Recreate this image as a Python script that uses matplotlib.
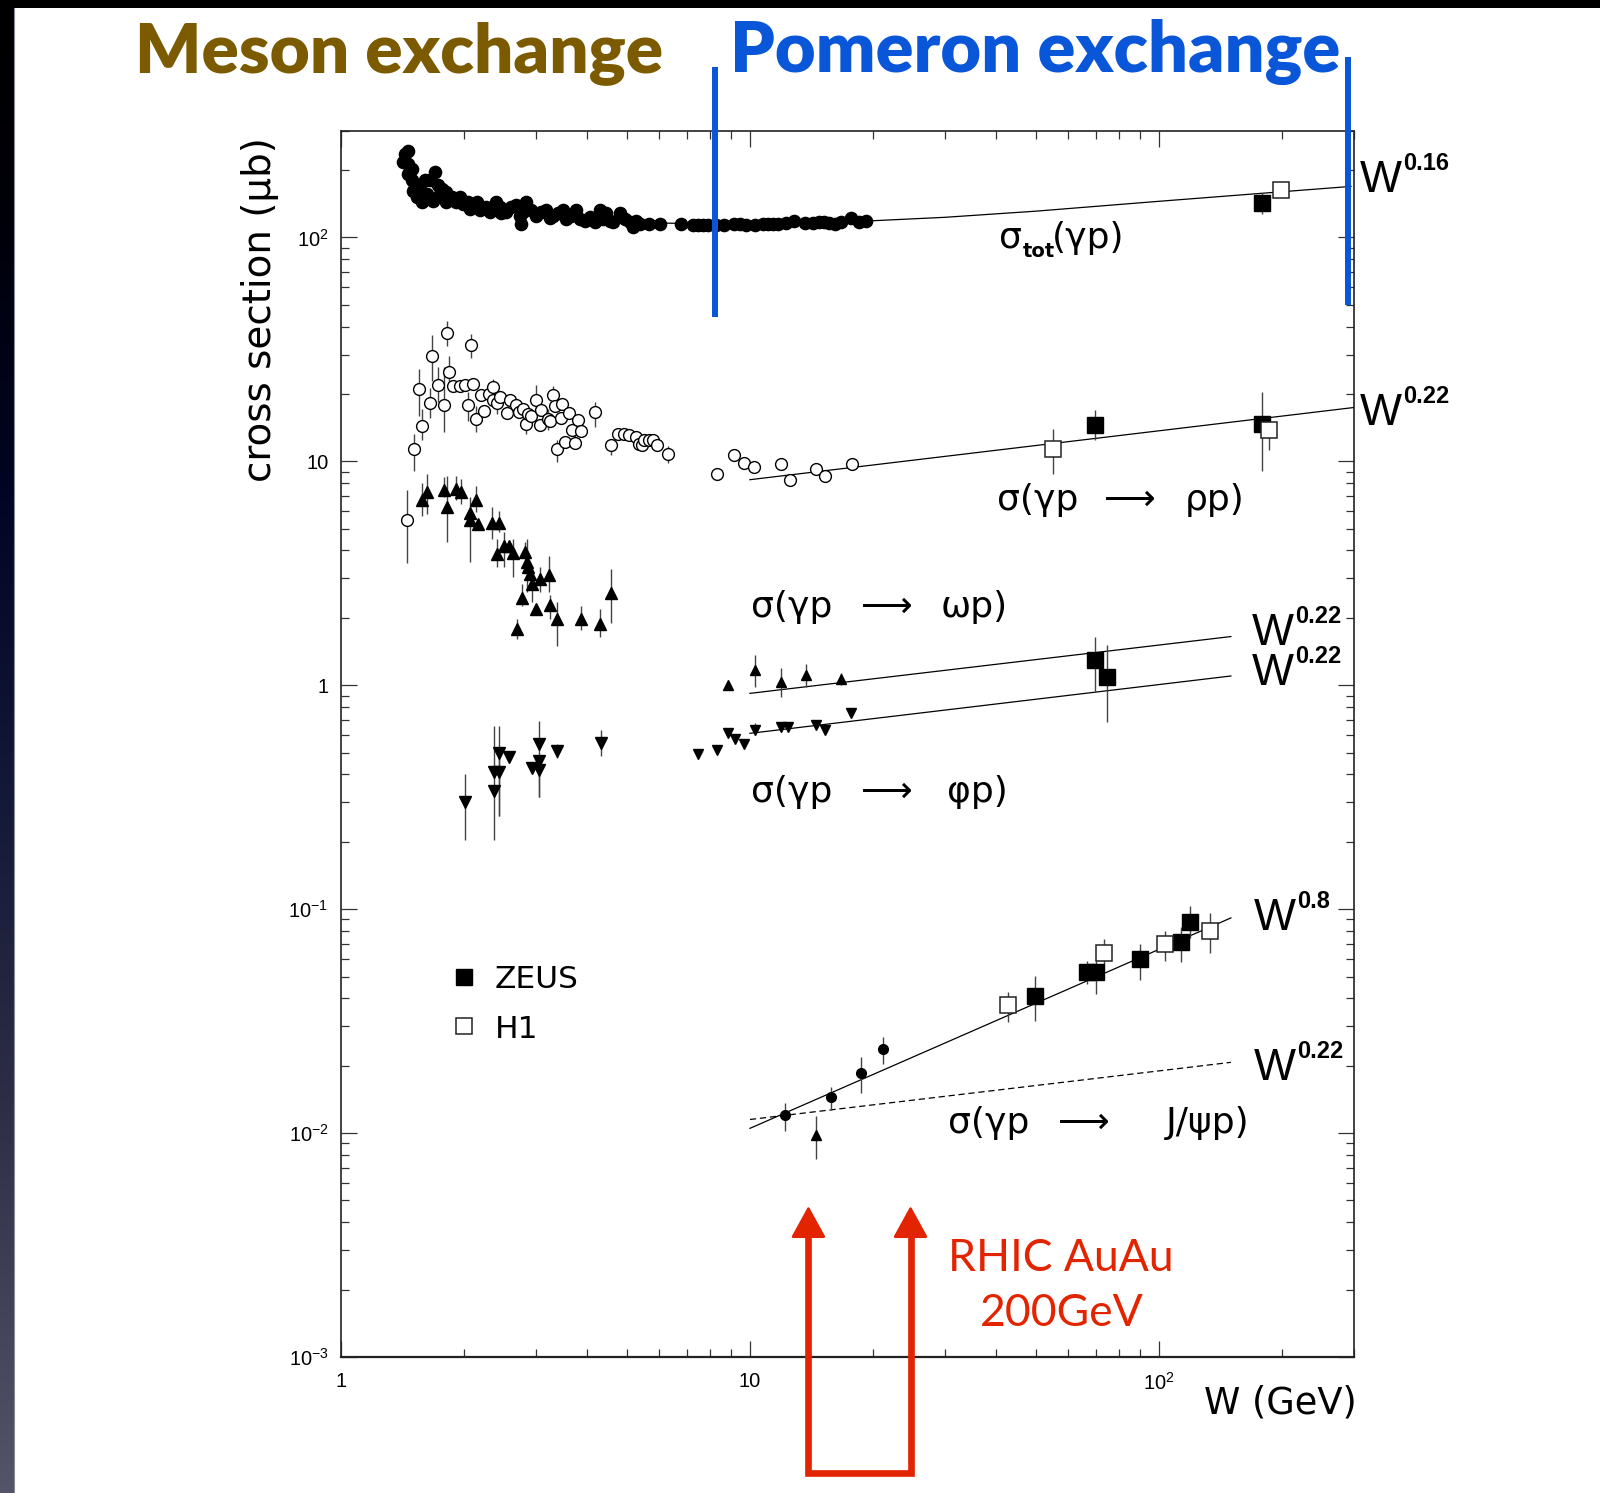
import matplotlib
matplotlib.use("Agg")
import matplotlib.pyplot as plt
import matplotlib.transforms as mtransforms
import numpy as np
from matplotlib import font_manager
from matplotlib.lines import Line2D
from matplotlib.patches import Rectangle
from matplotlib.ticker import FixedLocator, FixedFormatter, LogLocator, NullFormatter

# ---------------- data (W in GeV, cross sections in microbarn) ----------------

# total photoproduction cross section, fixed-target data
tot_w = [1.433, 1.460, 1.420, 1.460, 1.488, 1.460, 1.488, 1.502, 1.530, 1.574,
         1.516, 1.559, 1.604, 1.619, 1.650, 1.696, 1.681, 1.729, 1.745, 1.762,
         1.811, 1.811, 1.863, 1.916, 1.952, 1.990, 2.046, 2.066, 2.125, 2.145,
         2.185, 2.268, 2.311, 2.400, 2.445, 2.468, 2.538, 2.611, 2.686, 2.736,
         2.762, 2.788, 2.841, 2.921, 3.005, 3.090, 3.179, 3.239, 3.300, 3.395,
         3.491, 3.557, 3.659, 3.763, 3.833, 3.944, 4.056, 4.171, 4.290, 4.371,
         4.454, 4.539, 4.624, 4.801, 4.937, 5.078, 5.175, 5.272, 5.372, 5.68,
         6.01, 6.79, 7.25, 7.46, 7.67, 7.89, 8.27, 8.66, 9.16, 9.43,
         9.79, 10.26, 10.75, 11.05, 11.37, 11.69, 12.25, 12.84, 13.6, 14.23,
         14.78, 15.2, 15.6, 16.1, 16.7, 17.67, 18.5, 19.2]
tot_sig = [236, 244, 217, 213, 203, 192, 180, 162, 151, 144,
           171, 168, 180, 157, 180, 196, 146, 171, 157, 165,
           159, 144, 151, 144, 151, 141, 144, 134, 139, 144,
           132, 137, 130, 144, 137, 128, 130, 137, 139, 125,
           115, 130, 144, 132, 125, 130, 132, 122, 125, 128,
           132, 121, 125, 132, 121, 119, 123, 117, 132, 121,
           128, 119, 117, 128, 121, 117, 111, 119, 115, 115,
           115, 115, 114, 114, 114, 114, 114, 114, 115, 115,
           114, 114, 115, 115, 115, 115, 116, 118, 116, 116,
           117, 117, 116, 115, 117, 122, 117, 119]
tot_zeus_w, tot_zeus_sig, tot_zeus_lo, tot_zeus_hi = [178.6], [142.8], [127.6], [157.7]
tot_h1_w, tot_h1_sig = [199.4], [163.7]
tot_fit_w = [6.0, 10.0, 18.6, 30.0, 50.0, 100.0, 200.0, 295.0]
tot_fit_sig = [116, 114, 118, 123, 131, 145, 160, 169]

# rho photoproduction
rho_w = [1.45, 1.51, 1.55, 1.58, 1.65, 1.67, 1.73, 1.79, 1.82, 1.84,
         1.88, 1.95, 2.01, 2.05, 2.08, 2.10, 2.14, 2.20, 2.24, 2.30,
         2.35, 2.36, 2.41, 2.45, 2.55, 2.59, 2.68, 2.73, 2.79, 2.84,
         2.87, 2.91, 3.00, 3.06, 3.08, 3.21, 3.25, 3.30, 3.34, 3.38,
         3.46, 3.47, 3.53, 3.61, 3.67, 3.74, 3.79, 3.87, 4.19, 4.58,
         4.76, 4.92, 5.07, 5.25, 5.35, 5.44, 5.50, 5.65, 5.79, 5.94,
         6.30, 8.32, 9.16, 9.67, 10.25, 11.9, 12.5, 14.5, 15.3, 17.8]
rho_sig = [5.46, 11.3, 21.0, 14.4, 18.3, 29.6, 22.0, 17.9, 37.4, 25.0,
           21.6, 21.6, 22.0, 17.9, 33.1, 22.2, 15.4, 19.8, 16.7, 19.9,
           21.4, 18.7, 18.3, 19.4, 16.5, 18.7, 17.8, 16.6, 17.2, 14.7,
           16.3, 16.0, 18.7, 14.5, 17.0, 15.4, 15.1, 19.8, 17.7, 11.3,
           15.6, 18.0, 12.2, 16.4, 13.8, 12.1, 15.3, 13.6, 16.6, 11.8,
           13.3, 13.2, 13.1, 12.9, 11.9, 11.8, 12.4, 12.4, 12.5, 11.8,
           10.8, 8.82, 10.7, 9.83, 9.43, 9.76, 8.23, 9.27, 8.57, 9.76]
rho_lo = [3.50, 9.03, 15.9, 12.4, 15.6, 22.9, 18.4, 13.5, 32.8, 21.3,
          21.6, 21.6, 22.0, 15.1, 28.9, 22.2, 13.5, 19.8, 16.7, 19.9,
          20.1, 18.7, 16.2, 19.4, 15.4, 18.7, 17.8, 16.6, 17.2, 13.3,
          16.3, 16.0, 16.5, 14.5, 17.0, 13.8, 15.1, 18.4, 17.7, 9.98,
          15.6, 18.0, 12.2, 16.4, 13.8, 11.5, 15.3, 13.6, 14.3, 10.7,
          13.3, 13.2, 13.1, 12.9, 11.9, 11.8, 12.4, 12.4, 12.5, 11.8,
          9.8, 8.82, 10.7, 9.83, 9.43, 9.76, 8.23, 9.27, 8.57, 9.76]
rho_hi = [7.46, 13.3, 25.9, 17.1, 21.3, 36.5, 26.4, 26.4, 42.2, 29.4,
          21.6, 21.6, 22.0, 20.5, 37.2, 22.2, 17.7, 19.8, 16.7, 19.9,
          23.3, 18.7, 20.1, 19.4, 17.7, 18.7, 17.8, 16.6, 17.2, 17.7,
          16.3, 16.0, 22.0, 14.5, 17.0, 17.1, 15.1, 21.6, 17.7, 12.4,
          15.6, 18.0, 12.2, 16.4, 13.8, 13.3, 15.3, 13.6, 18.4, 12.6,
          13.3, 13.2, 13.1, 12.9, 11.9, 11.8, 12.4, 12.4, 12.5, 11.8,
          11.7, 8.82, 10.7, 9.83, 9.43, 9.76, 8.23, 9.27, 8.57, 9.76]
rho_zeus_w, rho_zeus_sig = [69.6, 178.8], [14.6, 14.7]
rho_zeus_lo, rho_zeus_hi = [12.4, 9.1], [17.0, 20.4]
rho_h1_w, rho_h1_sig = [55.0, 186.0], [11.3, 13.8]
rho_h1_lo, rho_h1_hi = [8.75, 11.2], [14.0, 15.8]
rho_fit_w, rho_fit_sig = [10.0, 300.0], [8.28, 17.4]

# omega photoproduction
omega_w = [1.58, 1.62, 1.79, 1.82, 1.91, 1.96, 2.07, 2.07, 2.14, 2.16,
           2.34, 2.44, 2.41, 2.51, 2.57, 2.64, 2.82, 2.85, 2.87, 2.90,
           2.93, 2.77, 2.99, 3.07, 3.22, 3.24, 3.37, 2.69, 3.87, 4.31,
           4.58, 8.86, 10.3, 11.9, 13.7, 16.7]
omega_sig = [6.70, 7.26, 7.47, 6.24, 7.55, 7.26, 5.87, 5.46, 6.75, 5.27,
             5.30, 5.30, 3.87, 4.20, 4.20, 3.90, 3.93, 3.56, 3.38, 3.15,
             2.82, 2.46, 2.19, 2.98, 3.12, 2.29, 1.98, 1.78, 1.98, 1.88,
             2.58, 1.00, 1.17, 1.035, 1.11, 1.07]
omega_lo = [5.70, 5.81, 6.95, 4.35, 6.70, 6.47, 3.56, 5.46, 5.91, 5.27,
            4.51, 4.84, 3.38, 3.38, 4.20, 3.03, 3.50, 2.62, 3.38, 3.15,
            2.35, 2.27, 2.19, 2.62, 2.62, 1.97, 1.50, 1.61, 1.77, 1.64,
            1.90, 1.00, 0.98, 0.89, 0.98, 1.00]
omega_hi = [8.04, 8.80, 8.48, 8.63, 8.63, 8.32, 6.95, 5.46, 7.74, 5.27,
            6.24, 6.01, 4.51, 4.84, 4.20, 4.51, 4.35, 4.51, 3.38, 3.15,
            3.15, 2.82, 2.19, 3.38, 3.77, 2.53, 2.35, 1.97, 2.27, 2.19,
            3.32, 1.00, 1.36, 1.19, 1.25, 1.14]
omega_zeus_w, omega_zeus_sig, omega_zeus_lo, omega_zeus_hi = [69.6], [1.29], [0.93], [1.64]
omega_fit_w, omega_fit_sig = [10.0, 150.0], [0.92, 1.65]

# phi photoproduction
phi_w = [2.01, 2.37, 2.37, 2.43, 2.44, 2.57, 2.93, 3.05, 3.05, 3.05,
         3.37, 4.33, 7.47, 8.32, 8.86, 9.20, 9.67, 10.3, 11.9, 12.4,
         14.5, 15.3, 17.7]
phi_sig = [0.302, 0.336, 0.41, 0.41, 0.50, 0.479, 0.425, 0.418, 0.457, 0.547,
           0.509, 0.553, 0.491, 0.513, 0.609, 0.578, 0.549, 0.63, 0.652, 0.652,
           0.663, 0.634, 0.748]
phi_lo = [0.203, 0.203, 0.41, 0.261, 0.261, 0.479, 0.425, 0.318, 0.457, 0.318,
          0.473, 0.482, 0.491, 0.513, 0.609, 0.578, 0.549, 0.60, 0.652, 0.652,
          0.663, 0.634, 0.748]
phi_hi = [0.403, 0.655, 0.41, 0.50, 0.655, 0.479, 0.425, 0.482, 0.457, 0.692,
          0.547, 0.632, 0.491, 0.513, 0.609, 0.578, 0.549, 0.68, 0.652, 0.652,
          0.663, 0.634, 0.748]
phi_zeus_w, phi_zeus_sig, phi_zeus_lo, phi_zeus_hi = [74.6], [1.09], [0.686], [1.51]
phi_fit_w, phi_fit_sig = [10.0, 150.0], [0.61, 1.10]

# J/psi photoproduction
jpsi_ft_w = [12.2, 15.8, 18.7, 21.2]
jpsi_ft_sig = [0.0120, 0.01452, 0.01852, 0.0237]
jpsi_ft_lo = [0.0102, 0.01265, 0.0151, 0.0203]
jpsi_ft_hi = [0.01368, 0.01614, 0.0219, 0.0269]
jpsi_tri_w, jpsi_tri_sig, jpsi_tri_lo, jpsi_tri_hi = [14.5], [0.0098], [0.0077], [0.0119]
jpsi_zeus_w = [49.7, 66.8, 70.0, 89.7, 113.0, 119.0]
jpsi_zeus_sig = [0.0411, 0.0525, 0.0525, 0.0598, 0.0714, 0.0875]
jpsi_zeus_lo = [0.0318, 0.0463, 0.0420, 0.0482, 0.0582, 0.0743]
jpsi_zeus_hi = [0.0501, 0.0586, 0.0586, 0.0700, 0.0836, 0.1038]
jpsi_h1_w = [42.8, 73.3, 103.7, 133.4]
jpsi_h1_sig = [0.0373, 0.0634, 0.0700, 0.0803]
jpsi_h1_lo = [0.0313, 0.0563, 0.0586, 0.0640]
jpsi_h1_hi = [0.0428, 0.0736, 0.0803, 0.0960]
jpsi_hard_w, jpsi_hard_sig = [10.0, 150.0], [0.0105, 0.0914]
jpsi_soft_w, jpsi_soft_sig = [10.0, 150.0], [0.0115, 0.0207]

# region dividers and RHIC reach
divider_w = [8.2, 290.0]
rhic_w = [13.9, 24.7]

# ---------------- styling ----------------
installed = {f.name for f in font_manager.fontManager.ttflist}


def pick_font(*names):
    for n in names:
        if n in installed:
            return n
    return "DejaVu Sans"


HEAD_FONT = pick_font("Lato", "Open Sans")
TICK_FONT = pick_font("Liberation Sans", "Arimo")
W_FONT = pick_font("Liberation Sans Narrow", "Liberation Sans")
LABEL_FONT = "DejaVu Sans"

plt.rcParams["mathtext.fontset"] = "custom"
plt.rcParams["mathtext.rm"] = TICK_FONT
plt.rcParams["mathtext.it"] = TICK_FONT
plt.rcParams["mathtext.default"] = "regular"

BROWN = "#7b5a00"
BLUE = "#0a56d8"
RED = "#e32400"
ERR = "#444444"

FIG_W, FIG_H = 1600, 1493


def fx(px):
    return px / FIG_W


def fy(py):
    return 1.0 - py / FIG_H


fig = plt.figure(figsize=(FIG_W / 100, FIG_H / 100), dpi=100)
fig.patch.set_facecolor("white")
renderer = fig.canvas.get_renderer()


def fit_width(t, target_px):
    w = t.get_window_extent(renderer).width
    t.set_fontsize(t.get_fontsize() * target_px / w)


# dark slide edge on the left and along the top
grad_stops = [0, 200, 500, 800, 1100, 1493]
grad_cols = np.array([[0, 0, 0], [0, 0, 8], [2, 5, 35], [20, 25, 55],
                      [45, 45, 70], [85, 85, 105]]) / 255.0
rows = np.arange(FIG_H)
grad = np.stack([np.interp(rows, grad_stops, grad_cols[:, k]) for k in range(3)], axis=1)
strip = fig.add_axes([0, 0, fx(14), 1])
strip.imshow(grad[:, None, :], aspect="auto", interpolation="bilinear")
strip.axis("off")
fig.add_artist(Line2D([fx(14.5), fx(14.5)], [0, fy(8)], color="#8a8a95", lw=0.8,
                      transform=fig.transFigure))
fig.add_artist(Rectangle((0, fy(8)), 1, 8 / FIG_H, transform=fig.transFigure,
                         facecolor="black", edgecolor="none"))

ax = fig.add_axes([fx(341), fy(1357), (1354 - 341) / FIG_W, (1357 - 130.6) / FIG_H])
ax.set_xscale("log")
ax.set_yscale("log")


def points(w, s, lo=None, hi=None, **kw):
    w = np.asarray(w, float)
    s = np.asarray(s, float)
    if lo is not None:
        lo = np.asarray(lo, float)
        hi = np.asarray(hi, float)
        ax.errorbar(w, s, yerr=[s - lo, hi - s], fmt="none", ecolor=ERR,
                    elinewidth=1.0, capsize=0, zorder=2)
    ax.plot(w, s, linestyle="none", zorder=3, **kw)


filled_sq = dict(marker="s", ms=11, mfc="black", mec="black", mew=1.0)
open_sq = dict(marker="s", ms=11, mfc="white", mec="#222222", mew=1.1)

# fits
ax.plot(tot_fit_w, tot_fit_sig, color="black", lw=0.9, zorder=1)
ax.plot(rho_fit_w, rho_fit_sig, color="black", lw=0.9, zorder=1)
ax.plot(omega_fit_w, omega_fit_sig, color="black", lw=0.9, zorder=1)
ax.plot(phi_fit_w, phi_fit_sig, color="black", lw=0.9, zorder=1)
ax.plot(jpsi_hard_w, jpsi_hard_sig, color="black", lw=0.9, zorder=1)
ax.plot(jpsi_soft_w, jpsi_soft_sig, color="black", lw=0.9, ls=(0, (5, 3)), zorder=1)

# total cross section
points(tot_w, tot_sig, marker="o", ms=8.8, mfc="black", mec="black")
points(tot_zeus_w, tot_zeus_sig, tot_zeus_lo, tot_zeus_hi, **filled_sq)
points(tot_h1_w, tot_h1_sig, **open_sq)

# rho
points(rho_w, rho_sig, rho_lo, rho_hi, marker="o", ms=8.5, mfc="white", mec="black", mew=1.0)
points(rho_zeus_w, rho_zeus_sig, rho_zeus_lo, rho_zeus_hi, **filled_sq)
points(rho_h1_w, rho_h1_sig, rho_h1_lo, rho_h1_hi, **open_sq)

# omega / phi: older data with larger markers, newer ones smaller
ow = np.asarray(omega_w)
pw = np.asarray(phi_w)
for sel, ms in ((ow < 7, 8.5), (ow >= 7, 6.5)):
    points(ow[sel], np.asarray(omega_sig)[sel], np.asarray(omega_lo)[sel],
           np.asarray(omega_hi)[sel], marker="^", ms=ms, mfc="black", mec="black")
for sel, ms in ((pw < 7, 8.5), (pw >= 7, 6.5)):
    points(pw[sel], np.asarray(phi_sig)[sel], np.asarray(phi_lo)[sel],
           np.asarray(phi_hi)[sel], marker="v", ms=ms, mfc="black", mec="black")
points(omega_zeus_w, omega_zeus_sig, omega_zeus_lo, omega_zeus_hi, **filled_sq)
points(phi_zeus_w, phi_zeus_sig, phi_zeus_lo, phi_zeus_hi, **filled_sq)

# J/psi
points(jpsi_ft_w, jpsi_ft_sig, jpsi_ft_lo, jpsi_ft_hi, marker="o", ms=7, mfc="black", mec="black")
points(jpsi_tri_w, jpsi_tri_sig, jpsi_tri_lo, jpsi_tri_hi, marker="^", ms=6.5, mfc="black", mec="black")
points(jpsi_zeus_w, jpsi_zeus_sig, jpsi_zeus_lo, jpsi_zeus_hi, **filled_sq)
points(jpsi_h1_w, jpsi_h1_sig, jpsi_h1_lo, jpsi_h1_hi, **open_sq)

# axes, ticks
ax.set_xlim(1, 300)
ax.set_ylim(1e-3, 300)
ax.xaxis.set_major_locator(FixedLocator([1, 10, 100]))
ax.xaxis.set_major_formatter(FixedFormatter(["1", "10", r"$10^{2}$"]))
ax.yaxis.set_major_locator(FixedLocator([1e-3, 1e-2, 1e-1, 1, 10, 100]))
ax.yaxis.set_major_formatter(FixedFormatter([r"$10^{-3}$", r"$10^{-2}$", r"$10^{-1}$",
                                             "1", "10", r"$10^{2}$"]))
for a in (ax.xaxis, ax.yaxis):
    a.set_minor_locator(LogLocator(base=10, subs=np.arange(2, 10), numticks=20))
    a.set_minor_formatter(NullFormatter())
ax.tick_params(which="both", direction="in", top=True, right=True, color="#333333", width=0.9)
ax.tick_params(which="major", length=11.5)
ax.tick_params(which="minor", length=5.8)
ax.tick_params(axis="x", pad=11, labelsize=14.5)
ax.tick_params(axis="y", pad=9, labelsize=14.5)
for lab in ax.get_xticklabels() + ax.get_yticklabels():
    lab.set_family(TICK_FONT)
for sp in ax.spines.values():
    sp.set_color("#222222")
    sp.set_linewidth(1.2)
ax.spines["bottom"].set_linewidth(1.6)

blend = mtransforms.blended_transform_factory(ax.transData, fig.transFigure)

# exchange-region dividers
ax.plot([divider_w[0]] * 2, [fy(67), fy(317)], color=BLUE, lw=4.3, transform=blend,
        clip_on=False, solid_capstyle="butt", zorder=6)
ax.plot([divider_w[1]] * 2, [fy(57), fy(305)], color=BLUE, lw=4.3, transform=blend,
        clip_on=False, solid_capstyle="butt", zorder=6)

# RHIC arrows
ax.plot([rhic_w[0], rhic_w[0], rhic_w[1], rhic_w[1]],
        [fy(1236), fy(1473), fy(1473), fy(1236)], color=RED, lw=4.8,
        transform=blend, clip_on=False, solid_joinstyle="miter", zorder=6)
for w in rhic_w:
    ax.annotate("", xy=(w, fy(1206)), xytext=(w, fy(1250)), xycoords=blend, textcoords=blend,
                arrowprops=dict(arrowstyle="-|>,head_length=20,head_width=11", mutation_scale=1,
                                lw=2.0, color=RED, shrinkA=0, shrinkB=0),
                annotation_clip=False, zorder=6)

# ---------------- text ----------------
t = fig.text(fx(135), fy(72), "Meson exchange", color=BROWN, fontsize=50, family=HEAD_FONT,
             weight="heavy", ha="left", va="baseline")
fit_width(t, 528)
t = fig.text(fx(730), fy(72), "Pomeron exchange", color=BLUE, fontsize=50, family=HEAD_FONT,
             weight="heavy", ha="left", va="baseline")
fit_width(t, 610)

fig.text(fx(260), fy(310), "cross section (μb)", rotation=90, ha="center", va="center",
         fontsize=28, family=LABEL_FONT)
fig.text(fx(1204), fy(1414), "W (GeV)", ha="left", va="baseline", fontsize=26.5,
         family=LABEL_FONT)

LBL = 26


def reaction(x0, xa, x1, base, lhs, rhs):
    fig.text(fx(x0), fy(base), lhs, ha="left", va="baseline", fontsize=LBL, family=LABEL_FONT)
    fig.text(fx(xa), fy(base), "⟶", ha="center", va="baseline", fontsize=LBL, family=LABEL_FONT)
    fig.text(fx(x1), fy(base), rhs, ha="right", va="baseline", fontsize=LBL, family=LABEL_FONT)


reaction(997, 1130, 1245, 510, "σ(γp", "ρp)")
reaction(751, 887, 1008, 617, "σ(γp", "ωp)")
reaction(751, 887, 1008, 802, "σ(γp", "φp)")
reaction(948, 1084, 1249, 1133, "σ(γp", "J/ψp)")

fig.text(fx(999), fy(248), "σ", ha="left", va="baseline", fontsize=LBL, family=LABEL_FONT)
fig.text(fx(1023), fy(257), "tot", ha="left", va="baseline", fontsize=14, weight="bold",
         family=LABEL_FONT)
fig.text(fx(1052), fy(248), "(γp)", ha="left", va="baseline", fontsize=LBL, family=LABEL_FONT)


def power(x, base, exp):
    wt = fig.text(fx(x), fy(base), "W", ha="left", va="baseline", fontsize=32, family=W_FONT)
    wpx = wt.get_window_extent(renderer).width
    fig.text(fx(x + wpx + 1), fy(base - 22), exp, ha="left", va="baseline", fontsize=17,
             weight="bold", family=TICK_FONT)


power(1360, 192, "0.16")
power(1360, 425, "0.22")
power(1252, 645, "0.22")
power(1252, 685, "0.22")
power(1254, 930, "0.8")
power(1254, 1080, "0.22")

# legend
fig.add_artist(Line2D([fx(464)], [fy(977)], transform=fig.transFigure, **filled_sq))
fig.add_artist(Line2D([fx(464)], [fy(1026)], transform=fig.transFigure, **open_sq))
fig.text(fx(495), fy(988), "ZEUS", ha="left", va="baseline", fontsize=22.5, family=LABEL_FONT)
fig.text(fx(495), fy(1038), "H1", ha="left", va="baseline", fontsize=22.5, family=LABEL_FONT)

fig.text(fx(1061), fy(1271), "RHIC AuAu", color=RED, ha="center", va="baseline",
         fontsize=32, family=HEAD_FONT)
fig.text(fx(1062), fy(1326), "200GeV", color=RED, ha="center", va="baseline",
         fontsize=32, family=HEAD_FONT)

fig.savefig("out.png", dpi=100, facecolor=fig.get_facecolor())
plt.close(fig)
